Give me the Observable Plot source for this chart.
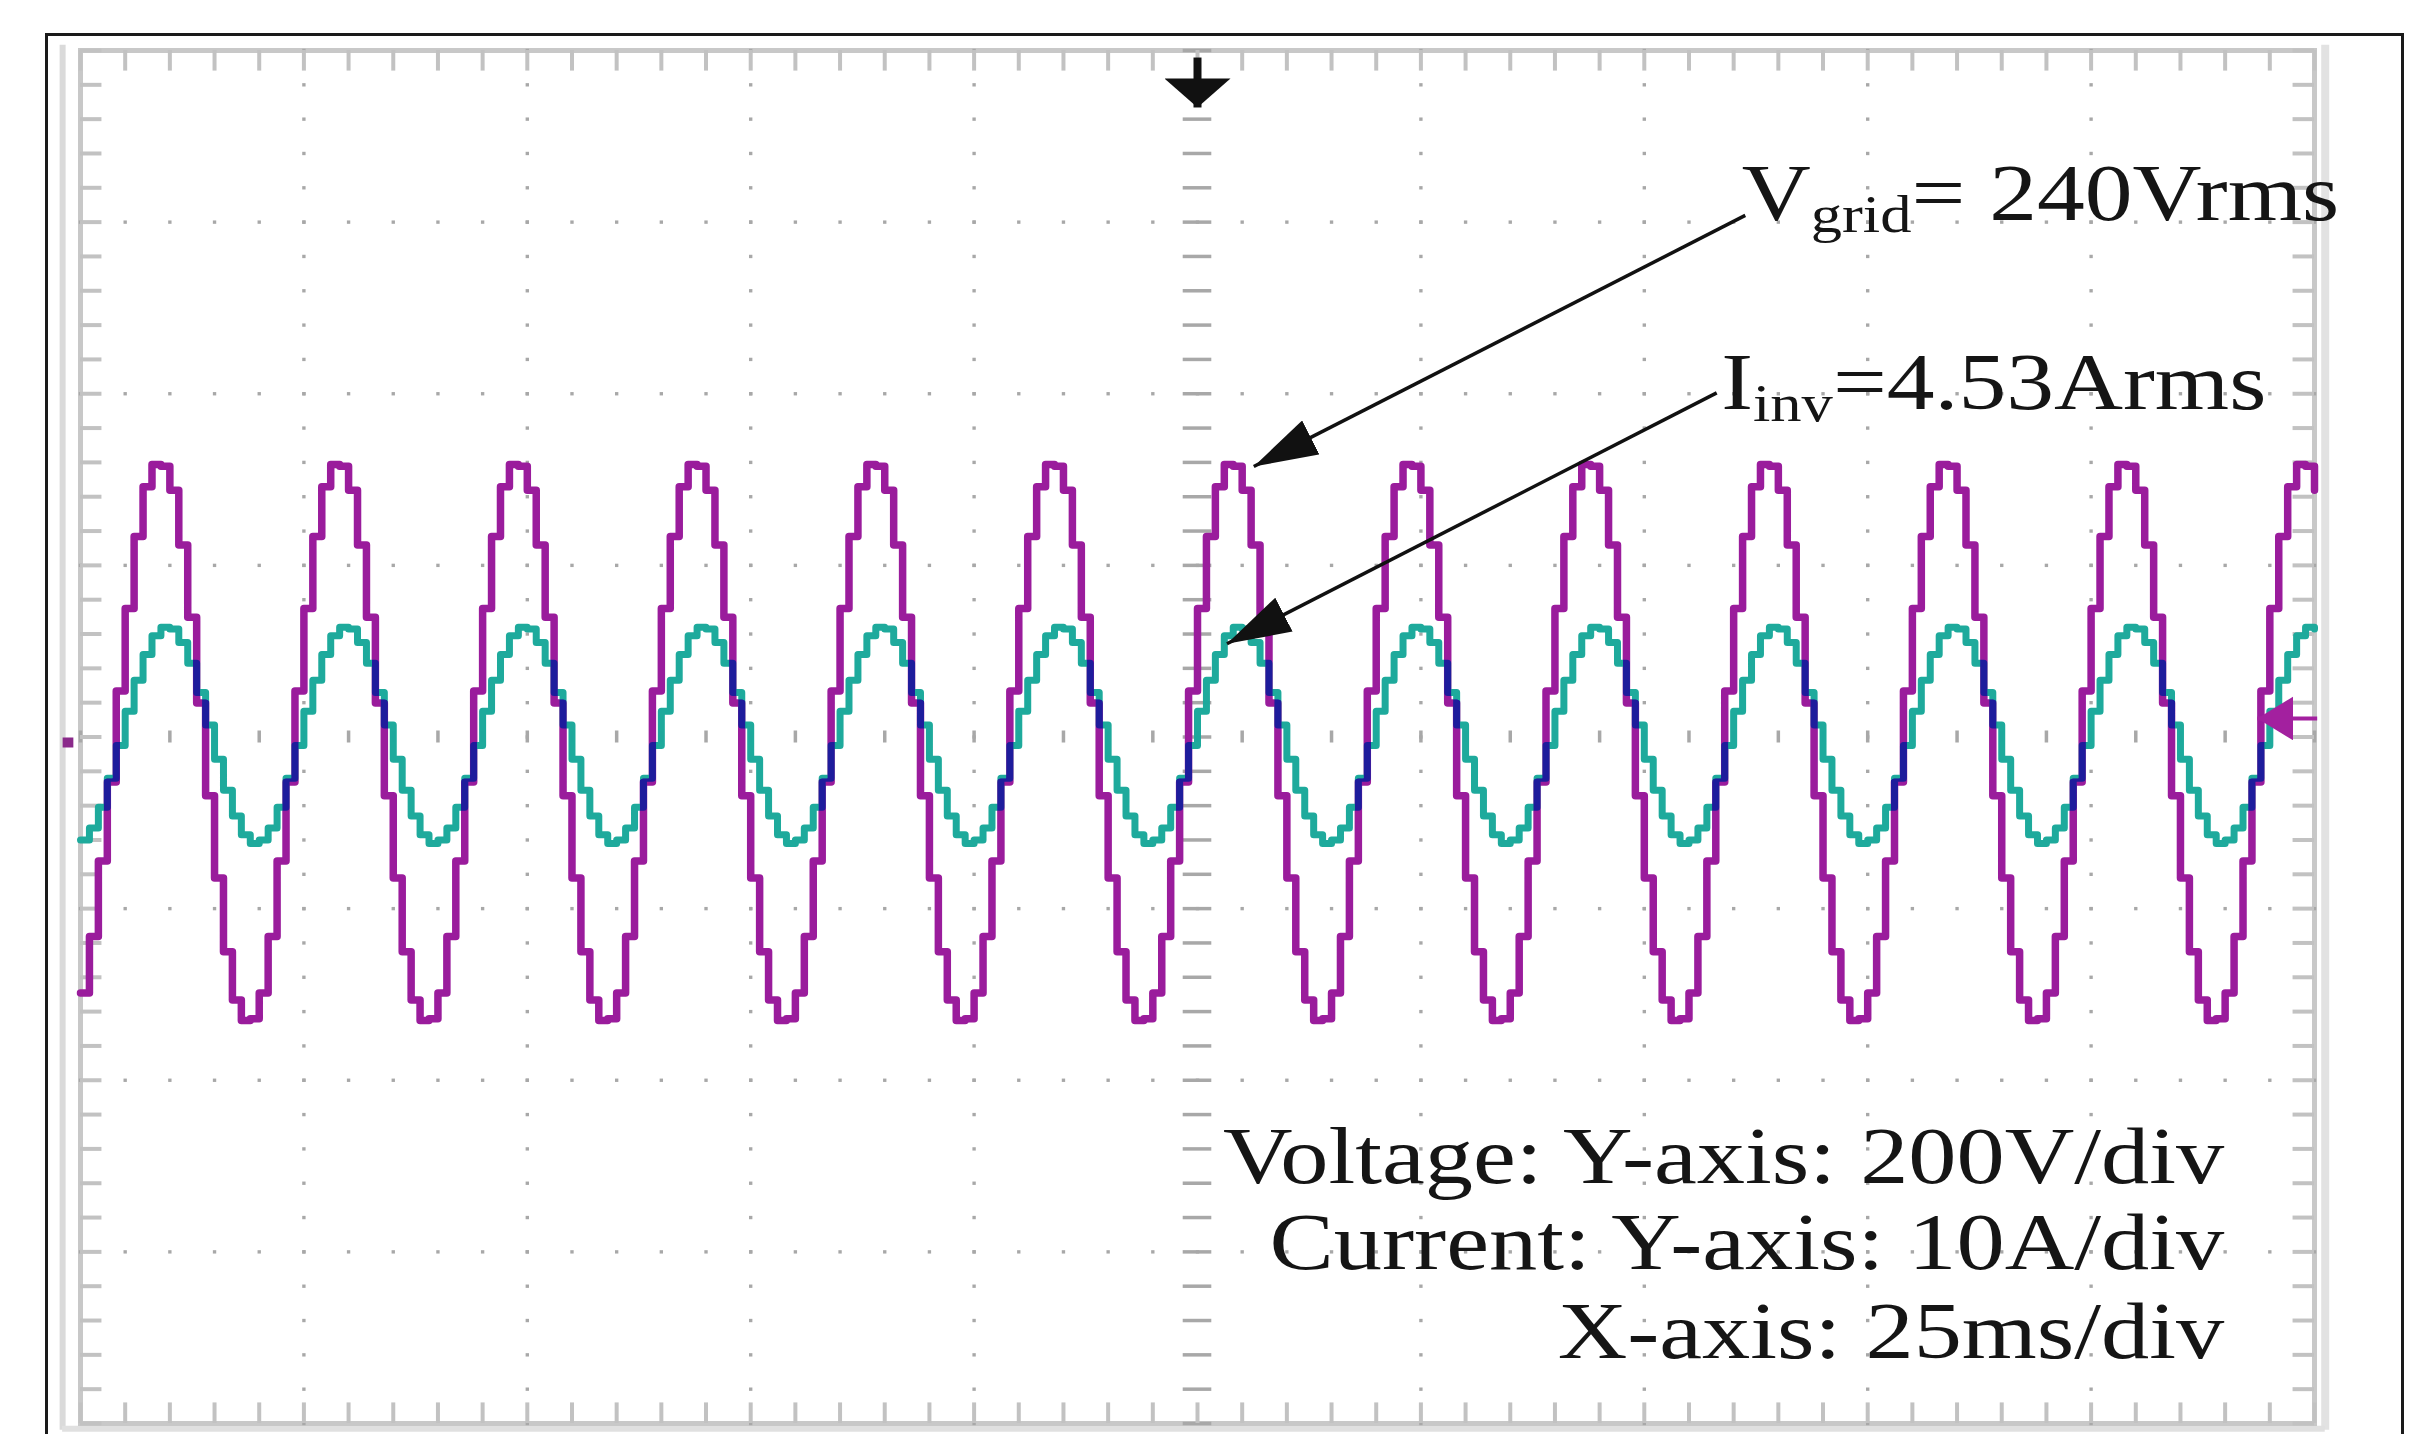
<!DOCTYPE html>
<html>
<head>
<meta charset="utf-8">
<script src="https://cdn.jsdelivr.net/npm/d3@7"></script>
<script src="https://cdn.jsdelivr.net/npm/@observablehq/plot@0.6"></script>
<style>
  html, body { margin: 0; padding: 0; background: #fff; overflow: hidden; }
  #wrap { position: relative; width: 2410px; height: 1434px; }
  #chart { position: absolute; left: 0; top: 0; }
  #outer { position: absolute; left: 45px; top: 33px; width: 2359px; height: 1480px;
           border: 3px solid #1a1a1a; box-sizing: border-box; pointer-events: none; }
</style>
</head>
<body>
<div id="wrap"><div id="chart"></div><div id="outer"></div></div>
<script>
// ---------------- data ----------------
// grid voltage samples (V), one sample per ms across the 250 ms screen
const gridVoltage = [
  -292,-226,-138,-46,60,156,240,298,324,322,294,230,146,46,-62,-158,-244,-300,-324,-322,
  -292,-226,-138,-46,60,156,240,298,324,322,294,230,146,46,-62,-158,-244,-300,-324,-322,
  -292,-226,-138,-46,60,156,240,298,324,322,294,230,146,46,-62,-158,-244,-300,-324,-322,
  -292,-226,-138,-46,60,156,240,298,324,322,294,230,146,46,-62,-158,-244,-300,-324,-322,
  -292,-226,-138,-46,60,156,240,298,324,322,294,230,146,46,-62,-158,-244,-300,-324,-322,
  -292,-226,-138,-46,60,156,240,298,324,322,294,230,146,46,-62,-158,-244,-300,-324,-322,
  -292,-226,-138,-46,60,156,240,298,324,322,294,230,146,46,-62,-158,-244,-300,-324,-322,
  -292,-226,-138,-46,60,156,240,298,324,322,294,230,146,46,-62,-158,-244,-300,-324,-322,
  -292,-226,-138,-46,60,156,240,298,324,322,294,230,146,46,-62,-158,-244,-300,-324,-322,
  -292,-226,-138,-46,60,156,240,298,324,322,294,230,146,46,-62,-158,-244,-300,-324,-322,
  -292,-226,-138,-46,60,156,240,298,324,322,294,230,146,46,-62,-158,-244,-300,-324,-322,
  -292,-226,-138,-46,60,156,240,298,324,322,294,230,146,46,-62,-158,-244,-300,-324,-322,
  -292,-226,-138,-46,60,156,240,298,324,322,294
];
// inverter current samples (A), one sample per ms
const inverterCurrent = [
  -6.1,-5.4,-4.2,-2.5,-0.6,1.4,3.2,4.7,5.8,6.3,6.2,5.4,4.2,2.5,0.6,-1.4,-3.2,-4.7,-5.8,-6.3,
  -6.1,-5.4,-4.2,-2.5,-0.6,1.4,3.2,4.7,5.8,6.3,6.2,5.4,4.2,2.5,0.6,-1.4,-3.2,-4.7,-5.8,-6.3,
  -6.1,-5.4,-4.2,-2.5,-0.6,1.4,3.2,4.7,5.8,6.3,6.2,5.4,4.2,2.5,0.6,-1.4,-3.2,-4.7,-5.8,-6.3,
  -6.1,-5.4,-4.2,-2.5,-0.6,1.4,3.2,4.7,5.8,6.3,6.2,5.4,4.2,2.5,0.6,-1.4,-3.2,-4.7,-5.8,-6.3,
  -6.1,-5.4,-4.2,-2.5,-0.6,1.4,3.2,4.7,5.8,6.3,6.2,5.4,4.2,2.5,0.6,-1.4,-3.2,-4.7,-5.8,-6.3,
  -6.1,-5.4,-4.2,-2.5,-0.6,1.4,3.2,4.7,5.8,6.3,6.2,5.4,4.2,2.5,0.6,-1.4,-3.2,-4.7,-5.8,-6.3,
  -6.1,-5.4,-4.2,-2.5,-0.6,1.4,3.2,4.7,5.8,6.3,6.2,5.4,4.2,2.5,0.6,-1.4,-3.2,-4.7,-5.8,-6.3,
  -6.1,-5.4,-4.2,-2.5,-0.6,1.4,3.2,4.7,5.8,6.3,6.2,5.4,4.2,2.5,0.6,-1.4,-3.2,-4.7,-5.8,-6.3,
  -6.1,-5.4,-4.2,-2.5,-0.6,1.4,3.2,4.7,5.8,6.3,6.2,5.4,4.2,2.5,0.6,-1.4,-3.2,-4.7,-5.8,-6.3,
  -6.1,-5.4,-4.2,-2.5,-0.6,1.4,3.2,4.7,5.8,6.3,6.2,5.4,4.2,2.5,0.6,-1.4,-3.2,-4.7,-5.8,-6.3,
  -6.1,-5.4,-4.2,-2.5,-0.6,1.4,3.2,4.7,5.8,6.3,6.2,5.4,4.2,2.5,0.6,-1.4,-3.2,-4.7,-5.8,-6.3,
  -6.1,-5.4,-4.2,-2.5,-0.6,1.4,3.2,4.7,5.8,6.3,6.2,5.4,4.2,2.5,0.6,-1.4,-3.2,-4.7,-5.8,-6.3,
  -6.1,-5.4,-4.2,-2.5,-0.6,1.4,3.2,4.7,5.8,6.3,6.2
];
const sampleMs = 1;
const voltsPerDiv = 200;
const ampsPerDiv = 10;
const msPerDiv = 25;
const divisionsX = 10;
const divisionsY = 8;
const voltageOffsetDiv = -0.032;   // CH voltage ground marker
const currentOffsetDiv = 0.01;
const triggerLevelV = 28;

const callouts = [
  {main: "V", sub: "grid", rest: "= 240Vrms"},
  {main: "I", sub: "inv", rest: "=4.53Arms"}
];
const scaleNotes = [
  "Voltage: Y-axis: 200V/div",
  "Current: Y-axis: 10A/div",
  "X-axis: 25ms/div"
];

// ---------------- layout (data coordinates: ms, divisions) ----------------
const xMax = divisionsX * msPerDiv;
const yMax = divisionsY / 2;
const calloutPos = [{t: 185.9, y: 3.010}, {t: 183.6, y: 1.914}];
const calloutArrows = [
  {x1: 186.3, y1: 3.039, x2: 131.3, y2: 1.576},
  {x1: 183.1, y1: 2.005, x2: 128.3, y2: 0.543}
];
const notesPos = [{t: 239.9, y: -2.597}, {t: 239.9, y: -3.098}, {t: 239.9, y: -3.616}];

const minorX = d3.range(0, divisionsX * 5 + 1).map(k => k * msPerDiv / 5);
const minorY = d3.range(-divisionsY * 5 / 2, divisionsY * 5 / 2 + 1).map(k => k / 5);
const centerX = xMax / 2;
const majorX = d3.range(1, divisionsX).map(k => k * msPerDiv).filter(v => v !== centerX);
const majorY = d3.range(-yMax + 1, yMax).filter(v => v !== 0);

const samples = gridVoltage.map((v, i) => ({t: i * sampleMs, v, c: inverterCurrent[i]}));
const gridGray = "#a8a8a8";
const tickGray = "#c2c2c2";
const vColor = "#9a1c9c";
const iColor = "#1eaa9c";
const serif = "'Liberation Serif', 'Times New Roman', serif";
const tag = name => () => name;   // per-element aria-label used to find elements after render

const chart = Plot.plot({
  width: 2410,
  height: 1434,
  marginLeft: 80,
  marginRight: 96,
  marginTop: 50,
  marginBottom: 11,
  x: {domain: [0, xMax], axis: null},
  y: {domain: [-yMax, yMax], axis: null},
  style: {background: "transparent", overflow: "visible"},
  marks: [
    // bezel
    Plot.ruleX([-2.0], {y1: yMax + 0.03, y2: -yMax - 0.04, stroke: "#dadada", strokeWidth: 6}),
    Plot.ruleX([xMax + 1.2], {y1: yMax + 0.03, y2: -yMax - 0.04, stroke: "#e2e2e2", strokeWidth: 8}),
    Plot.ruleY([-yMax - 0.03], {x1: -2.0, x2: xMax + 1.2, stroke: "#e0e0e0", strokeWidth: 6}),
    Plot.frame({stroke: "#c8c8c8", strokeWidth: 5}),
    // dotted graticule
    Plot.dot(d3.cross(majorX, minorY), {x: d => d[0], y: d => d[1], symbol: "square", r: 1.9, fill: gridGray}),
    Plot.dot(d3.cross(minorX, majorY), {x: d => d[0], y: d => d[1], symbol: "square", r: 1.9, fill: gridGray}),
    // centre axes with ticks
    Plot.ruleY(minorY, {y: d => d, x1: centerX - 1.6, x2: centerX + 1.6, stroke: "#a8a8a8", strokeWidth: 3.5}),
    Plot.ruleX(minorX, {x: d => d, y1: -0.035, y2: 0.035, stroke: "#a8a8a8", strokeWidth: 3.5}),
    // border ticks
    Plot.ruleX(minorX, {x: d => d, y1: yMax, y2: yMax - 0.12, stroke: tickGray, strokeWidth: 4}),
    Plot.ruleX(minorX, {x: d => d, y1: -yMax, y2: -yMax + 0.12, stroke: tickGray, strokeWidth: 4}),
    Plot.ruleY(minorY, {y: d => d, x1: 0, x2: 2.4, stroke: tickGray, strokeWidth: 4}),
    Plot.ruleY(minorY, {y: d => d, x1: xMax - 2.4, x2: xMax, stroke: tickGray, strokeWidth: 4}),
    // traces
    Plot.line(samples, {x: "t", y: d => d.v / voltsPerDiv + voltageOffsetDiv, curve: "step-after",
      stroke: vColor, strokeWidth: 7.5}),
    Plot.line(samples, {x: "t", y: d => d.c / ampsPerDiv + currentOffsetDiv, curve: "step-after",
      stroke: iColor, strokeWidth: 7, mixBlendMode: "darken"}),
    // channel ground marker (left) and trigger level marker (right)
    Plot.link([{y: voltageOffsetDiv}], {x1: -2.0, x2: -0.8, y1: "y", y2: "y", stroke: "#8a2a8a", strokeWidth: 10}),
    Plot.link([{y: triggerLevelV / voltsPerDiv + voltageOffsetDiv}], {x1: xMax + 0.3, x2: xMax - 6.4,
      y1: "y", y2: "y", stroke: "#a3209f", strokeWidth: 4, ariaLabel: tag("trigger-level")}),
    // trigger position arrow (top centre)
    Plot.link([{t: centerX}], {x1: "t", x2: "t", y1: 3.959, y2: 3.668, stroke: "#111", strokeWidth: 8,
      ariaLabel: tag("trigger-pos")}),
    // callout arrows
    Plot.link(calloutArrows, {x1: "x1", y1: "y1", x2: "x2", y2: "y2", stroke: "#111", strokeWidth: 3.5,
      ariaLabel: tag("callout-arrow")}),
    // texts
    Plot.text(callouts, {x: (d, i) => calloutPos[i].t, y: (d, i) => calloutPos[i].y,
      text: d => d.main + d.sub + d.rest, textAnchor: "start", lineAnchor: "bottom",
      fontFamily: serif, fontSize: 81, fill: "#151515", ariaLabel: tag("callout")}),
    Plot.text(scaleNotes, {x: (d, i) => notesPos[i].t, y: (d, i) => notesPos[i].y, text: d => d,
      textAnchor: "end", lineAnchor: "bottom", fontFamily: serif, fontSize: 81, fill: "#151515",
      ariaLabel: tag("scale-note")})
  ]
});

document.getElementById("chart").appendChild(chart);

// ---------------- post-processing: filled arrowheads, subscripts, stretched serif text ----------------
const svg = d3.select(chart);
const defs = svg.insert("defs", ":first-child");
function addMarker(id, L, W, color) {
  defs.append("marker")
    .attr("id", id)
    .attr("markerUnits", "userSpaceOnUse")
    .attr("viewBox", `${-L} ${-W / 2} ${L} ${W}`)
    .attr("refX", 0).attr("refY", 0)
    .attr("markerWidth", L).attr("markerHeight", W)
    .attr("orient", "auto")
    .append("path")
    .attr("d", `M0,0L${-L},${-W / 2}L${-L},${W / 2}Z`)
    .attr("fill", color);
}
addMarker("head-callout", 64, 38, "#111");
addMarker("head-trigpos", 29, 66, "#111");
addMarker("head-triglevel", 36, 44, "#a3209f");
svg.selectAll('[aria-label="callout-arrow"]').attr("marker-end", "url(#head-callout)");
svg.selectAll('[aria-label="trigger-pos"]').attr("marker-end", "url(#head-trigpos)");
svg.selectAll('[aria-label="trigger-level"]').attr("marker-end", "url(#head-triglevel)");

function stretch(el, s) {
  const tr = el.attr("transform");
  if (tr) el.attr("transform", `${tr} scale(${s},1)`);
  else {
    const x = +el.attr("x") || 0, y = +el.attr("y") || 0;
    el.attr("x", null).attr("y", null).attr("transform", `translate(${x},${y}) scale(${s},1)`);
  }
}
svg.selectAll('text[aria-label="callout"]').each(function (_, i) {
  const d = callouts[i];
  const el = d3.select(this);
  el.text(null);
  el.append("tspan").text(d.main);
  el.append("tspan").attr("font-size", 53).attr("dy", 12).text(d.sub);
  el.append("tspan").attr("dy", -12).text(d.rest);
  stretch(el, 1.18);
});
svg.selectAll('text[aria-label="scale-note"]').each(function () { stretch(d3.select(this), 1.19); });
</script>
</body>
</html>
